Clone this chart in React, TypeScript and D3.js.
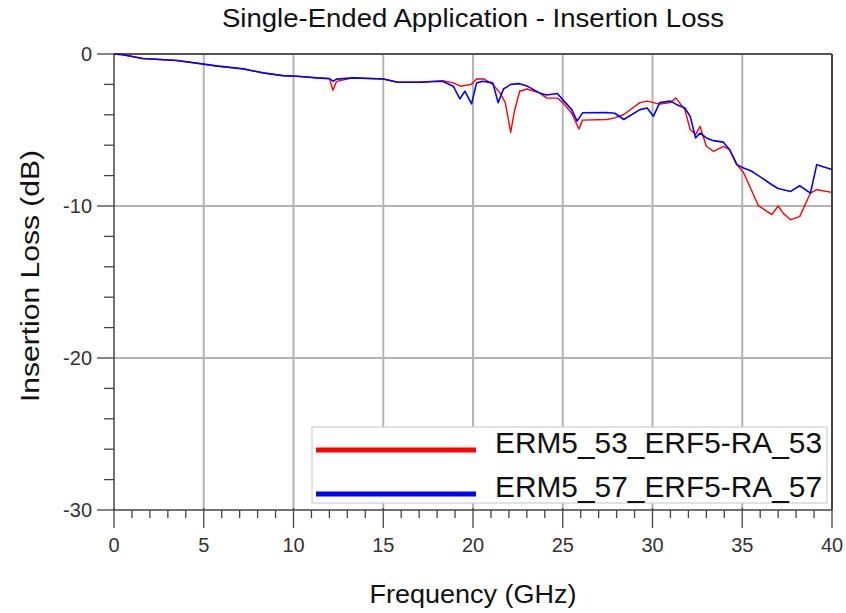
import React from "react";
import * as d3 from "d3";

const W = 846;
const H = 613;
const M = { left: 114, right: 832, top: 54, bottom: 510 };

const xTicks = [0, 5, 10, 15, 20, 25, 30, 35, 40];
const yTicks = [0, -10, -20, -30];

const seriesNames = ["ERM5_53_ERF5-RA_53", "ERM5_57_ERF5-RA_57"];
const seriesColors = ["#ff0000", "#0000ff"];

const freqRed = [0, 0.5, 1.6, 3.5, 4.9, 5.7, 7.2, 8.3, 9.4, 10.2, 11.3, 12.0, 12.2, 12.4, 13.3, 15.0, 15.8, 17.0, 18.3, 18.9, 19.3, 19.9, 20.2, 20.6, 21.1, 21.5, 21.8, 22.1, 22.3, 22.6, 23.0, 23.7, 24.1, 24.7, 25.0, 25.5, 25.9, 26.1, 27.45, 27.9, 28.4, 29.3, 29.7, 30.4, 31.0, 31.3, 31.8, 32.1, 32.4, 32.65, 33.0, 33.4, 33.95, 34.3, 34.7, 35.07, 35.5, 35.9, 36.65, 37.0, 37.3, 37.7, 38.2, 38.8, 39.15, 40];
const lossRed = [0, -0.05, -0.3, -0.43, -0.65, -0.8, -0.98, -1.24, -1.42, -1.46, -1.57, -1.62, -2.38, -1.8, -1.57, -1.64, -1.86, -1.86, -1.75, -1.9, -2.12, -2.0, -1.64, -1.64, -2.0, -2.55, -3.2, -5.15, -3.8, -2.45, -2.3, -2.56, -2.89, -2.9, -3.2, -3.9, -4.93, -4.35, -4.31, -4.2, -3.98, -3.2, -3.1, -3.3, -3.2, -2.89, -3.66, -4.97, -5.3, -4.76, -6.07, -6.4, -6.07, -6.3, -7.28, -7.8, -8.93, -9.98, -10.57, -10.0, -10.5, -10.9, -10.7, -9.15, -8.93, -9.1];

const freqBlue = [0, 0.5, 1.6, 3.5, 4.9, 5.7, 7.2, 8.3, 9.4, 10.2, 11.3, 12.0, 12.2, 12.4, 13.3, 15.0, 15.8, 17.0, 18.3, 18.9, 19.27, 19.55, 19.92, 20.2, 20.55, 21.1, 21.4, 21.7, 22.1, 22.6, 23.0, 23.7, 24.1, 24.7, 25.0, 25.5, 25.8, 26.1, 27.45, 27.9, 28.4, 29.3, 29.7, 30.05, 30.4, 31.0, 31.3, 31.8, 32.1, 32.4, 32.65, 33.0, 33.4, 33.95, 34.3, 34.7, 35.07, 35.5, 35.9, 36.65, 37.0, 37.7, 38.2, 38.8, 39.15, 40];
const lossBlue = [0, -0.05, -0.3, -0.43, -0.65, -0.78, -0.98, -1.24, -1.42, -1.46, -1.57, -1.62, -1.79, -1.65, -1.57, -1.64, -1.86, -1.86, -1.79, -2.12, -2.95, -2.45, -3.28, -1.9, -1.79, -1.9, -3.2, -2.3, -2.0, -1.95, -2.1, -2.56, -2.7, -2.6, -3.0, -3.66, -4.42, -3.87, -3.85, -3.9, -4.31, -3.66, -3.55, -4.1, -3.2, -3.1, -3.3, -3.55, -4.1, -5.52, -5.2, -5.52, -5.7, -5.8, -6.3, -7.28, -7.5, -7.7, -8.0, -8.6, -8.85, -9.04, -8.67, -9.15, -7.28, -7.6];

const FONT = "'Liberation Sans', Arial, Helvetica, sans-serif";

export default function App() {
  const x = d3.scaleLinear().domain([0, 40]).range([M.left, M.right]);
  const y = d3.scaleLinear().domain([-30, 0]).range([M.bottom, M.top]);

  const line = d3
    .line<[number, number]>()
    .x((d) => x(d[0]))
    .y((d) => y(d[1]));

  const redPts = freqRed.map((f, i) => [f, lossRed[i]] as [number, number]);
  const bluePts = freqBlue.map((f, i) => [f, lossBlue[i]] as [number, number]);

  const xMinor = d3.range(0, 41, 1);
  const yMinor = d3.range(-30, 1, 2);

  const legend = { x0: 312, x1: 827, y0: 427, y1: 503 };

  return (
    <svg
      width={W}
      height={H}
      style={{ position: "absolute", left: 0, top: 0, background: "#fff" }}
      fontFamily={FONT}
    >
      {/* grid */}
      {xTicks
        .filter((t) => t > 0 && t < 40)
        .map((t) => (
          <line key={"gx" + t} x1={x(t)} x2={x(t)} y1={M.top} y2={M.bottom} stroke="#b4b4b4" strokeWidth={2} />
        ))}
      {yTicks
        .filter((t) => t < 0 && t > -30)
        .map((t) => (
          <line key={"gy" + t} x1={M.left} x2={M.right} y1={y(t)} y2={y(t)} stroke="#b4b4b4" strokeWidth={2} />
        ))}

      {/* frame */}
      <line x1={M.left} x2={M.right} y1={M.top} y2={M.top} stroke="#555" strokeWidth={2} />
      <line x1={M.right} x2={M.right} y1={M.top} y2={M.bottom} stroke="#444" strokeWidth={2} />
      <line x1={M.left} x2={M.left} y1={M.top} y2={M.bottom} stroke="#444" strokeWidth={1.5} />
      <line x1={M.left} x2={M.right} y1={M.bottom} y2={M.bottom} stroke="#444" strokeWidth={1.5} />

      {/* y ticks */}
      {yMinor.map((t) => (
        <line
          key={"ym" + t}
          x1={t % 10 === 0 ? M.left - 17 : M.left - 10}
          x2={M.left}
          y1={y(t)}
          y2={y(t)}
          stroke="#444"
          strokeWidth={1.3}
        />
      ))}
      {yTicks.map((t) => (
        <text key={"yt" + t} x={M.left - 22} y={y(t)} dy="0.35em" textAnchor="end" fontSize={20} fill="#333">
          {t}
        </text>
      ))}

      {/* x ticks */}
      {xMinor.map((t) => (
        <line
          key={"xm" + t}
          x1={x(t)}
          x2={x(t)}
          y1={t % 5 === 0 ? M.bottom - 2 : M.bottom}
          y2={t % 5 === 0 ? M.bottom + 18 : M.bottom + 8}
          stroke="#444"
          strokeWidth={1.3}
        />
      ))}
      {xTicks.map((t) => (
        <text key={"xt" + t} x={x(t)} y={552} textAnchor="middle" fontSize={20} fill="#333">
          {t}
        </text>
      ))}

      {/* curves */}
      <path d={line(redPts) || ""} fill="none" stroke={seriesColors[0]} strokeWidth={1.4} strokeLinejoin="round" />
      <path d={line(bluePts) || ""} fill="none" stroke={seriesColors[1]} strokeWidth={1.6} strokeLinejoin="round" />

      {/* legend */}
      <rect
        x={legend.x0}
        y={legend.y0}
        width={legend.x1 - legend.x0}
        height={legend.y1 - legend.y0}
        fill="#fff"
        stroke="#cfcfcf"
        strokeWidth={1.2}
      />
      {seriesNames.map((name, i) => (
        <g key={name}>
          <line x1={316} x2={476} y1={450 + i * 44} y2={450 + i * 44} stroke={seriesColors[i]} strokeWidth={5} />
          <text x={495} y={453 + i * 44} fontSize={29} fill="#111" textLength={327} lengthAdjust="spacingAndGlyphs">
            {name}
          </text>
        </g>
      ))}

      {/* titles */}
      <text x={473} y={27} textAnchor="middle" fontSize={25} fill="#111" textLength={502} lengthAdjust="spacingAndGlyphs">
        Single-Ended Application - Insertion Loss
      </text>
      <text x={473} y={603} textAnchor="middle" fontSize={25} fill="#111" textLength={207} lengthAdjust="spacingAndGlyphs">
        Frequency (GHz)
      </text>
      <text
        transform={`translate(39, ${276}) rotate(-90)`}
        textAnchor="middle"
        fontSize={26}
        fill="#111"
        textLength={252}
        lengthAdjust="spacingAndGlyphs"
      >
        Insertion Loss (dB)
      </text>
    </svg>
  );
}
